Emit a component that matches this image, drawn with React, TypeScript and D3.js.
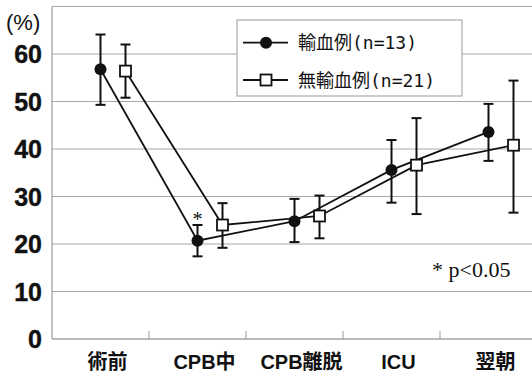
import React from 'react';
import * as d3 from 'd3';

const categories = ['術前', 'CPB中', 'CPB離脱', 'ICU', '翌朝'];
const transfMean = [56.8, 20.7, 24.8, 35.6, 43.6];
const transfHi = [64.1, 24.0, 29.5, 41.9, 49.5];
const transfLo = [49.3, 17.4, 20.4, 28.7, 37.5];
const noTransfMean = [56.4, 24.0, 25.9, 36.6, 40.8];
const noTransfHi = [62.0, 28.6, 30.2, 46.5, 54.4];
const noTransfLo = [50.8, 19.2, 21.2, 26.3, 26.6];
const yTicks = [0, 10, 20, 30, 40, 50, 60];
const legendLabels = [['輸血例', '(n=13)'], ['無輸血例', '(n=21)']];

const W = 532;
const H = 376;
const left = 52;
const right = 537;
const top = 6.5;
const bottom = 339;

export default function App() {
  const x = d3.scaleBand<string>().domain(categories).range([left, right]).paddingInner(0).paddingOuter(0);
  const y = d3.scaleLinear().domain([0, 70]).range([bottom, top]);
  const bw = x.bandwidth();
  const cx1 = (c: string) => (x(c) as number) + bw / 2;
  const cx2 = (c: string) => (x(c) as number) + bw / 2 + 25;

  const line = d3.line<[number, number]>().x(d => d[0]).y(d => d[1]);
  const p1 = line(categories.map((c, i) => [cx1(c), y(transfMean[i])]));
  const p2 = line(categories.map((c, i) => [cx2(c), y(noTransfMean[i])]));

  const cap = 5;
  const jp = '"Noto Sans CJK JP", sans-serif';

  return (
    <svg width={W} height={H} style={{ position: 'absolute', left: 0, top: 0, background: '#fff' }}>
      <rect x={0} y={0} width={W} height={H} fill="#fff" />
      {/* grid */}
      {yTicks.filter(t => t > 0).map(t => (
        <line key={t} x1={left} x2={W} y1={y(t)} y2={y(t)} stroke="#a8a8a8" strokeWidth={1} />
      ))}
      <line x1={left} x2={W} y1={top} y2={top} stroke="#a8a8a8" strokeWidth={1} />
      {/* axes */}
      <line x1={left} x2={left} y1={top} y2={bottom} stroke="#888" strokeWidth={1} />
      <line x1={left} x2={W} y1={bottom} y2={bottom} stroke="#777" strokeWidth={1} />
      {categories.slice(1).map(c => (
        <line key={c} x1={x(c)} x2={x(c)} y1={bottom} y2={bottom - 8} stroke="#999" strokeWidth={1} />
      ))}
      {/* y tick labels */}
      {yTicks.map(t => (
        <text key={t} x={42} y={y(t)} dy="0.36em" textAnchor="end" fontFamily='"Liberation Sans", Arial, sans-serif'
          fontWeight="bold" fontSize={25} fill="#111" stroke="#111" strokeWidth={0.4}>{t}</text>
      ))}
      <text x={6} y={30} fontFamily='"Liberation Sans", Arial, sans-serif' fontSize={22} fill="#111">(%)</text>
      {/* x labels */}
      {categories.map(c => (
        <text key={c} x={cx1(c) + 7} y={369} textAnchor="middle" fontFamily={'"Liberation Sans", ' + jp}
          fontWeight="bold" fontSize={20} fill="#111">{c}</text>
      ))}
      {/* lines */}
      <path d={p1 || ''} fill="none" stroke="#111" strokeWidth={1.8} />
      <path d={p2 || ''} fill="none" stroke="#111" strokeWidth={1.8} />
      {/* error bars */}
      {categories.map((c, i) => (
        <g key={'e1' + c} stroke="#111" strokeWidth={2}>
          <line x1={cx1(c)} x2={cx1(c)} y1={y(transfHi[i])} y2={y(transfLo[i])} />
          <line x1={cx1(c) - cap} x2={cx1(c) + cap} y1={y(transfHi[i])} y2={y(transfHi[i])} />
          <line x1={cx1(c) - cap} x2={cx1(c) + cap} y1={y(transfLo[i])} y2={y(transfLo[i])} />
        </g>
      ))}
      {categories.map((c, i) => (
        <g key={'e2' + c} stroke="#111" strokeWidth={2}>
          <line x1={cx2(c)} x2={cx2(c)} y1={y(noTransfHi[i])} y2={y(noTransfLo[i])} />
          <line x1={cx2(c) - cap} x2={cx2(c) + cap} y1={y(noTransfHi[i])} y2={y(noTransfHi[i])} />
          <line x1={cx2(c) - cap} x2={cx2(c) + cap} y1={y(noTransfLo[i])} y2={y(noTransfLo[i])} />
        </g>
      ))}
      {/* markers */}
      {categories.map((c, i) => (
        <circle key={'m1' + c} cx={cx1(c)} cy={y(transfMean[i])} r={6} fill="#111" />
      ))}
      {categories.map((c, i) => (
        <rect key={'m2' + c} x={cx2(c) - 5.5} y={y(noTransfMean[i]) - 5.5} width={11} height={11}
          fill="#fff" stroke="#111" strokeWidth={1.8} />
      ))}
      {/* significance */}
      <text x={cx1(categories[1])} y={y(transfHi[1]) + 1} textAnchor="middle"
        fontFamily='"Liberation Serif", serif' fontSize={20} fill="#111">*</text>
      <text x={432} y={277} fontFamily='"Liberation Serif", serif' fontSize={22} fill="#111">* p&lt;0.05</text>
      {/* legend */}
      <rect x={237} y={20} width={225} height={76} fill="#fff" stroke="#999" strokeWidth={1} />
      {legendLabels.map((lab, i) => {
        const ly = 42.7 + i * 37.3;
        return (
          <g key={i}>
            <line x1={243} x2={288} y1={ly} y2={ly} stroke="#111" strokeWidth={1.8} />
            {i === 0 ? (
              <circle cx={266} cy={ly} r={6} fill="#111" />
            ) : (
              <rect x={260.5} y={ly - 5.5} width={11} height={11} fill="#fff" stroke="#111" strokeWidth={1.8} />
            )}
            <text x={298} y={ly + 6.5} fontSize={18} fill="#111" fontFamily={jp}>
              {lab[0]}
              <tspan fontFamily='"DejaVu Sans Mono", monospace'>{lab[1]}</tspan>
            </text>
          </g>
        );
      })}
    </svg>
  );
}
